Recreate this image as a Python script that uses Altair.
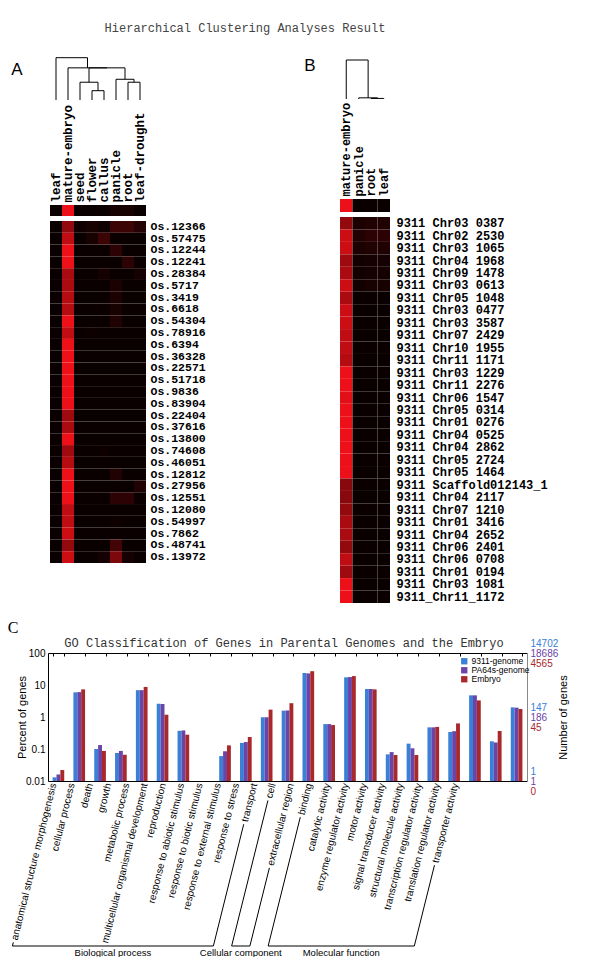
import math
import altair as alt
import pandas as pd

W, H = 584, 949

TITLE = "Hierarchical Clustering Analyses Result"
GO_TITLE = "GO Classification of Genes in Parental Genomes and the Embryo"

# ---------------- Panel A data ----------------
a_cols = ["leaf", "mature-embryo", "seed", "flower", "callus", "panicle", "root", "leaf-drought"]
a_rows = ["Os.12366", "Os.57475", "Os.12244", "Os.12241", "Os.28384", "Os.5717", "Os.3419",
          "Os.6618", "Os.54304", "Os.78916", "Os.6394", "Os.36328", "Os.22571", "Os.51718",
          "Os.9836", "Os.83904", "Os.22404", "Os.37616", "Os.13800", "Os.74608", "Os.46051",
          "Os.12812", "Os.27956", "Os.12551", "Os.12080", "Os.54997", "Os.7862", "Os.48741",
          "Os.13972"]
a_header = [0, 1.0, 0, 0, 0, 0.06, 0.06, 0]
a_matrix = [
    [0, 0.60, 0.03, 0.06, 0.03, 0.22, 0.22, 0.12],
    [0, 0.80, 0, 0.06, 0.22, 0, 0, 0],
    [0, 1.00, 0, 0, 0, 0.15, 0, 0],
    [0, 1.00, 0, 0, 0, 0, 0.15, 0],
    [0, 0.70, 0, 0, 0.05, 0, 0, 0.05],
    [0, 0.70, 0, 0, 0, 0.08, 0, 0],
    [0, 0.75, 0, 0, 0, 0.08, 0, 0],
    [0, 0.75, 0, 0, 0, 0.06, 0, 0],
    [0, 1.00, 0, 0, 0, 0.10, 0, 0],
    [0, 0.80, 0, 0.02, 0, 0, 0, 0],
    [0, 1.00, 0, 0, 0, 0, 0, 0],
    [0, 1.00, 0, 0, 0, 0, 0, 0],
    [0, 1.00, 0, 0, 0, 0, 0, 0],
    [0, 1.00, 0, 0, 0, 0, 0, 0],
    [0, 1.00, 0, 0, 0, 0, 0, 0],
    [0, 1.00, 0, 0, 0, 0, 0, 0],
    [0, 0.65, 0, 0, 0, 0, 0, 0],
    [0, 0.70, 0, 0, 0, 0, 0, 0],
    [0, 1.00, 0, 0, 0, 0, 0, 0],
    [0, 0.65, 0, 0, 0.02, 0, 0, 0],
    [0, 0.75, 0, 0, 0, 0, 0, 0],
    [0, 1.00, 0, 0, 0, 0.10, 0, 0],
    [0, 1.00, 0, 0, 0, 0, 0, 0.10],
    [0, 1.00, 0, 0, 0, 0.15, 0.15, 0],
    [0, 0.80, 0, 0, 0, 0, 0, 0],
    [0, 0.80, 0, 0, 0, 0.02, 0, 0],
    [0, 0.85, 0, 0, 0, 0, 0, 0],
    [0, 0.60, 0, 0, 0, 0.25, 0, 0],
    [0, 0.85, 0, 0, 0.05, 0.50, 0.05, 0],
]
# merges: (child a, child b, height); clusters numbered after the leaves
a_linkage = [(3, 4, 0.22), (2, 8, 0.42), (6, 7, 0.42), (5, 10, 0.49),
             (9, 11, 0.76), (1, 12, 0.76), (0, 13, 1.0)]

# ---------------- Panel B data ----------------
b_cols = ["mature-embryo", "panicle", "root", "leaf"]
b_rows = ["9311 Chr03 0387", "9311 Chr02 2530", "9311 Chr03 1065", "9311 Chr04 1968",
          "9311 Chr09 1478", "9311 Chr03 0613", "9311 Chr05 1048", "9311 Chr03 0477",
          "9311 Chr03 3587", "9311 Chr07 2429", "9311 Chr10 1955", "9311 Chr11 1171",
          "9311 Chr03 1229", "9311 Chr11 2276", "9311 Chr06 1547", "9311 Chr05 0314",
          "9311 Chr01 0276", "9311 Chr04 0525", "9311 Chr04 2862", "9311 Chr05 2724",
          "9311 Chr05 1464", "9311 Scaffold012143_1", "9311 Chr04 2117", "9311 Chr07 1210",
          "9311 Chr01 3416", "9311 Chr04 2652", "9311 Chr06 2401", "9311 Chr06 0708",
          "9311 Chr01 0194", "9311 Chr03 1081", "9311_Chr11_1172"]
b_header = [1.0, 0, 0, 0]
b_matrix = [
    [0.60, 0.08, 0.10, 0.10], [0.85, 0.10, 0.15, 0.15], [0.85, 0.08, 0.10, 0.10],
    [0.65, 0.04, 0.05, 0.05], [0.70, 0.04, 0.05, 0.05], [0.85, 0.04, 0.06, 0.06],
    [0.70, 0, 0, 0], [0.85, 0, 0, 0], [0.85, 0, 0, 0], [0.80, 0, 0, 0],
    [0.80, 0, 0, 0], [0.75, 0, 0, 0], [1.00, 0, 0, 0], [1.00, 0, 0, 0],
    [0.95, 0, 0, 0], [1.00, 0, 0, 0], [1.00, 0, 0, 0], [1.00, 0, 0, 0],
    [1.00, 0, 0, 0], [1.00, 0, 0, 0], [1.00, 0, 0, 0], [0.55, 0, 0, 0],
    [0.55, 0, 0, 0], [0.60, 0, 0, 0], [0.70, 0, 0, 0], [0.70, 0, 0, 0],
    [0.60, 0, 0, 0], [0.80, 0, 0, 0], [0.65, 0, 0, 0], [1.00, 0, 0, 0],
    [1.00, 0, 0, 0],
]
b_linkage = [(2, 3, 0.015), (1, 4, 0.03), (0, 5, 1.0)]

# ---------------- Panel C data ----------------
go_categories = ["anatomical structure morphogenesis", "cellular process", "death", "growth",
                 "metabolic process", "multicellular organismal development", "reproduction",
                 "response to abiotic stimulus", "response to biotic stimulus",
                 "response to external stimulus", "response to stress", "transport", "cell",
                 "extracellular region", "binding", "catalytic activity",
                 "enzyme regulator activity", "motor activity", "signal transducer activity",
                 "structural molecule activity", "transcription regulator activity",
                 "translation regulator activity", "transporter activity"]
go_groups = [("Biological process", 0, 11), ("Cellular component", 12, 13),
             ("Molecular function", 14, 22)]
series = ["9311-genome", "PA64s-genome", "Embryo"]
series_colors = ["#3a80d6", "#6a44a6", "#a8282c"]
pct_9311 = [0.013, 5.9, 0.10, 0.075, 6.9, 2.6, 0.37, 0, 0.060, 0.155, 0.98, 1.58,
            23.7, 0.60, 17.4, 7.5, 0.068, 0.147, 0.475, 0.34, 4.75, 0.174, 2.0]
pct_pa64 = [0.016, 6.0, 0.133, 0.087, 6.9, 2.55, 0.38, 0, 0.085, 0.165, 0.98, 1.60,
            23.0, 0.60, 17.7, 7.5, 0.080, 0.105, 0.475, 0.36, 4.75, 0.160, 1.96]
pct_embryo = [0.022, 7.3, 0.087, 0.066, 8.7, 1.18, 0.28, 0, 0.13, 0.237, 1.7, 2.7,
              27.0, 0.56, 19.0, 7.3, 0.065, 0.065, 0.49, 0.63, 3.3, 0.365, 1.78]
pct_ticks = [0.01, 0.1, 1, 10, 100]
right_ticks = [0.01, 1, 100]
right_labels = {
    "9311-genome": ["1", "147", "14702"],
    "PA64s-genome": ["1", "186", "18686"],
    "Embryo": ["0", "45", "4565"],
}

# ---------------- layout (pixels inside the view) ----------------
A_X, A_HDR, A_MAIN, A_DEN = [42, 138], [197, 208], [213, 555], [92, 49.7]
B_X, B_HDR, B_MAIN, B_DEN = [332, 382], [191, 204], [209, 595], [91, 52]
C_X, C_Y, C_LAB_X = [40, 519], [773, 645], [35.9, 456.1]
LABEL_ANGLE = 76

MONO = "Liberation Mono"
SANS = "Liberation Sans"
heat_scale = alt.Scale(domain=[0, 1], range=["#0a0000", "#ee1018"], interpolate="rgb")


def heat_long(rows, cols, matrix):
    return pd.DataFrame([{"row": r, "col": c, "v": matrix[i][j]}
                         for i, r in enumerate(rows) for j, c in enumerate(cols)])


def band(domain, rng):
    return alt.Scale(domain=domain, range=rng, paddingInner=0, paddingOuter=0)


def dendro_df(n, merges):
    pos = {i: float(i) for i in range(n)}
    hgt = {i: 0.0 for i in range(n)}
    segs = []
    for k, (a, b, h) in enumerate(merges):
        segs.append({"x": pos[a], "x2": pos[a], "y": hgt[a], "y2": h})
        segs.append({"x": pos[b], "x2": pos[b], "y": hgt[b], "y2": h})
        segs.append({"x": pos[a], "x2": pos[b], "y": h, "y2": h})
        pos[n + k] = (pos[a] + pos[b]) / 2
        hgt[n + k] = h
    return pd.DataFrame(segs)


def dendro_layer(n, merges, xr, yr):
    return alt.Chart(dendro_df(n, merges)).mark_rule(color="black", strokeWidth=1).encode(
        x=alt.X("x:Q", scale=alt.Scale(domain=[-0.5, n - 0.5], range=xr, nice=False, zero=False), axis=None),
        x2="x2:Q",
        y=alt.Y("y:Q", scale=alt.Scale(domain=[0, 1], range=yr, nice=False, zero=False), axis=None),
        y2="y2:Q",
    )


def heat_layers(rows, cols, matrix, header, xr, hdr, main, col_size, row_size, row_pad):
    main_layer = alt.Chart(heat_long(rows, cols, matrix)).mark_rect().encode(
        x=alt.X("col:N", scale=band(cols, xr),
                axis=alt.Axis(orient="top", offset=-hdr[0], labelAngle=-90, labelAlign="left",
                              labelBaseline="middle", labelPadding=3, ticks=False, domain=False,
                              labelFont=MONO, labelFontWeight="bold", labelFontSize=col_size,
                              labelColor="black", labelLimit=300, labelOverlap=False, title=None)),
        y=alt.Y("row:N", scale=band(rows, main),
                axis=alt.Axis(orient="right", offset=xr[1] - W, labelPadding=row_pad, ticks=False,
                              domain=False, labelFont=MONO, labelFontWeight="bold",
                              labelFontSize=row_size, labelColor="black", labelLimit=300,
                              labelOverlap=False, title=None)),
        color=alt.Color("v:Q", scale=heat_scale, legend=None),
    )
    hdr_df = pd.DataFrame({"row": ["all"] * len(cols), "col": cols, "v": header})
    hdr_layer = alt.Chart(hdr_df).mark_rect().encode(
        x=alt.X("col:N", scale=band(cols, xr), axis=None),
        y=alt.Y("row:N", scale=band(["all"], hdr), axis=None),
        color=alt.Color("v:Q", scale=heat_scale, legend=None),
    )
    return [main_layer, hdr_layer]


def text_layer(txt, x, y, size, font, color="black", weight="normal"):
    return alt.Chart(pd.DataFrame({"t": [txt]})).mark_text(
        font=font, fontSize=size, color=color, fontWeight=weight, align="center", baseline="middle"
    ).encode(text="t:N", x=alt.value(x), y=alt.value(y))


layers = []
layers.append(text_layer(TITLE, 237, 20, 12, MONO, "#444"))
layers.append(text_layer("A", 9, 62, 17, SANS))
layers.append(text_layer("B", 302, 58, 17, SANS))
layers.append(text_layer("C", 5, 620, 16, "Liberation Serif"))
layers.append(text_layer(GO_TITLE, 276, 635, 12, MONO, "#333"))

layers.append(dendro_layer(len(a_cols), a_linkage, A_X, A_DEN))
layers += heat_layers(a_rows, a_cols, a_matrix, a_header, A_X, A_HDR, A_MAIN, 12.5, 11.5, 4)
layers.append(dendro_layer(len(b_cols), b_linkage, B_X, B_DEN))
layers += heat_layers(b_rows, b_cols, b_matrix, b_header, B_X, B_HDR, B_MAIN, 12, 12, 6)

# ---------------- bar chart ----------------
bar_rows = []
for s, vals in zip(series, [pct_9311, pct_pa64, pct_embryo]):
    for c, v in zip(go_categories, vals):
        bar_rows.append({"category": c, "series": s, "value": v})
bars_df = pd.DataFrame(bar_rows)

bar_x_scale = alt.Scale(domain=go_categories, range=C_X, paddingInner=0.44, paddingOuter=0.22)
pct_scale = alt.Scale(type="log", domain=[0.01, 100], range=C_Y, nice=False)

bars = alt.Chart(bars_df).transform_filter("datum.value > 0").mark_bar().encode(
    x=alt.X("category:N", scale=bar_x_scale,
            axis=alt.Axis(orient="bottom", offset=C_Y[0] - H, labels=False, ticks=False,
                          domainColor="black", title=None)),
    xOffset=alt.XOffset("series:N", scale=alt.Scale(domain=series)),
    y=alt.Y("value:Q", scale=pct_scale,
            axis=alt.Axis(orient="left", offset=-C_X[0], values=pct_ticks,
                          labelExpr="'' + datum.value", ticks=False, labelPadding=3,
                          labelFont=SANS, labelFontSize=10, labelColor="black",
                          labelFlush=False, domainColor="black", grid=False,
                          title="Percent of genes", titleFont=SANS, titleFontSize=11,
                          titleFontWeight="normal", titleColor="black", titleAngle=270,
                          titleX=-26, titleY=709, titleAlign="center", titleBaseline="middle")),
    y2=alt.datum(0.01),
    color=alt.Color("series:N", scale=alt.Scale(domain=series, range=series_colors),
                    legend=alt.Legend(orient="none", legendX=452, legendY=649, title=None,
                                      symbolType="square", symbolSize=40, symbolStrokeWidth=0,
                                      labelFont=SANS, labelFontSize=8.5, rowPadding=0,
                                      padding=0, labelOffset=3)),
)
layers.append(bars)

# top frame with inward ticks
cat_df = pd.DataFrame({"category": go_categories})
layers.append(alt.Chart(cat_df).mark_point(opacity=0).encode(
    x=alt.X("category:N", scale=bar_x_scale,
            axis=alt.Axis(orient="bottom", offset=C_Y[1] - H, labels=False, ticks=True,
                          tickSize=3, tickBand="extent", tickColor="black",
                          domainColor="black", title=None)),
))

# category labels (as drawn in the original, on their own band)
layers.append(alt.Chart(cat_df).mark_point(opacity=0).encode(
    x=alt.X("category:N", scale=band(go_categories, C_LAB_X),
            axis=alt.Axis(orient="bottom", offset=C_Y[0] - H, labelAngle=-LABEL_ANGLE,
                          labelAlign="right", labelBaseline="middle", labelPadding=2,
                          ticks=False, domain=False, labelFont=SANS, labelFontSize=10,
                          labelColor="black", labelOverlap=False, labelLimit=400, title=None)),
))

# right axis: gene counts per series
offsets = [-10, 0, 10]
for k, (s, col) in enumerate(zip(series, series_colors)):
    labs = right_labels[s]
    expr = "[" + ",".join("'%s'" % l for l in labs) + "][indexof([0.01,1,100], datum.value)]"
    ax = dict(orient="right", offset=C_X[1] - W, values=right_ticks, labelExpr=expr,
              labelColor=col, labelOffset=offsets[k], labelPadding=3, ticks=False,
              labelFont=SANS, labelFontSize=10, labelFlush=False, grid=False,
              domain=(k == 0), domainColor="#888888", title=None)
    if k == 0:
        ax.update(title="Number of genes", titleFont=SANS, titleFontSize=11,
                  titleFontWeight="normal", titleColor="black", titleAngle=270,
                  titleX=36, titleY=709, titleAlign="center", titleBaseline="middle")
    layers.append(alt.Chart(pd.DataFrame({"v": [0.01, 100]})).mark_point(opacity=0).encode(
        y=alt.Y("v:Q", scale=pct_scale, axis=alt.Axis(**ax))))

# group brackets under the category labels
widths = {'a': 556, 'b': 556, 'c': 500, 'd': 556, 'e': 556, 'f': 278, 'g': 556, 'h': 556,
          'i': 222, 'j': 222, 'k': 500, 'l': 222, 'm': 833, 'n': 556, 'o': 556, 'p': 556,
          'q': 556, 'r': 333, 's': 500, 't': 278, 'u': 556, 'v': 500, 'w': 722, 'x': 500,
          'y': 500, 'z': 500, ' ': 278}


def text_w(s, size=10):
    return sum(widths.get(ch, 556) for ch in s) / 1000.0 * size


th = math.radians(LABEL_ANGLE)
step_lab = (C_LAB_X[1] - C_LAB_X[0]) / len(go_categories)
PAD, GAP, D = 2, 3, 165


def lab_pt(i, t):
    return i + 0.5 - t * math.cos(th) / step_lab, PAD + t * math.sin(th)


t_end = (D - PAD) / math.sin(th)
segs, glabels = [], []
for name, i0, i1 in go_groups:
    t0 = min(text_w(go_categories[i0]) + GAP, t_end)
    t1 = min(text_w(go_categories[i1]) + GAP, t_end)
    p0a, p0b = lab_pt(i0, t0), lab_pt(i0, t_end)
    p1a, p1b = lab_pt(i1, t1), lab_pt(i1, t_end)
    for a, b in [(p0a, p0b), (p1a, p1b), (p0b, p1b)]:
        segs.append({"x": a[0], "y": a[1], "x2": b[0], "y2": b[1]})
    glabels.append({"name": name, "x": (p0b[0] + p1b[0]) / 2, "y": D + 2})

br_x = alt.Scale(domain=[0, len(go_categories)], range=C_LAB_X, nice=False, zero=False)
br_y = alt.Scale(domain=[0, 200], range=[C_Y[0], C_Y[0] + 200], nice=False, zero=False)
layers.append(alt.Chart(pd.DataFrame(segs)).mark_rule(color="black", strokeWidth=1).encode(
    x=alt.X("x:Q", scale=br_x, axis=None), x2="x2:Q",
    y=alt.Y("y:Q", scale=br_y, axis=None), y2="y2:Q"))
layers.append(alt.Chart(pd.DataFrame(glabels)).mark_text(
    font=SANS, fontSize=9.5, baseline="top", align="center", color="black").encode(
    x=alt.X("x:Q", scale=br_x, axis=None),
    y=alt.Y("y:Q", scale=br_y, axis=None),
    text="name:N"))

chart = alt.layer(*layers).resolve_scale(
    x="independent", y="independent", color="independent"
).properties(
    width=W, height=H, autosize=alt.AutoSizeParams(type="none"), padding=0
).configure_view(stroke=None)

chart.save("out.html", embed_options={"renderer": "svg", "actions": False})
